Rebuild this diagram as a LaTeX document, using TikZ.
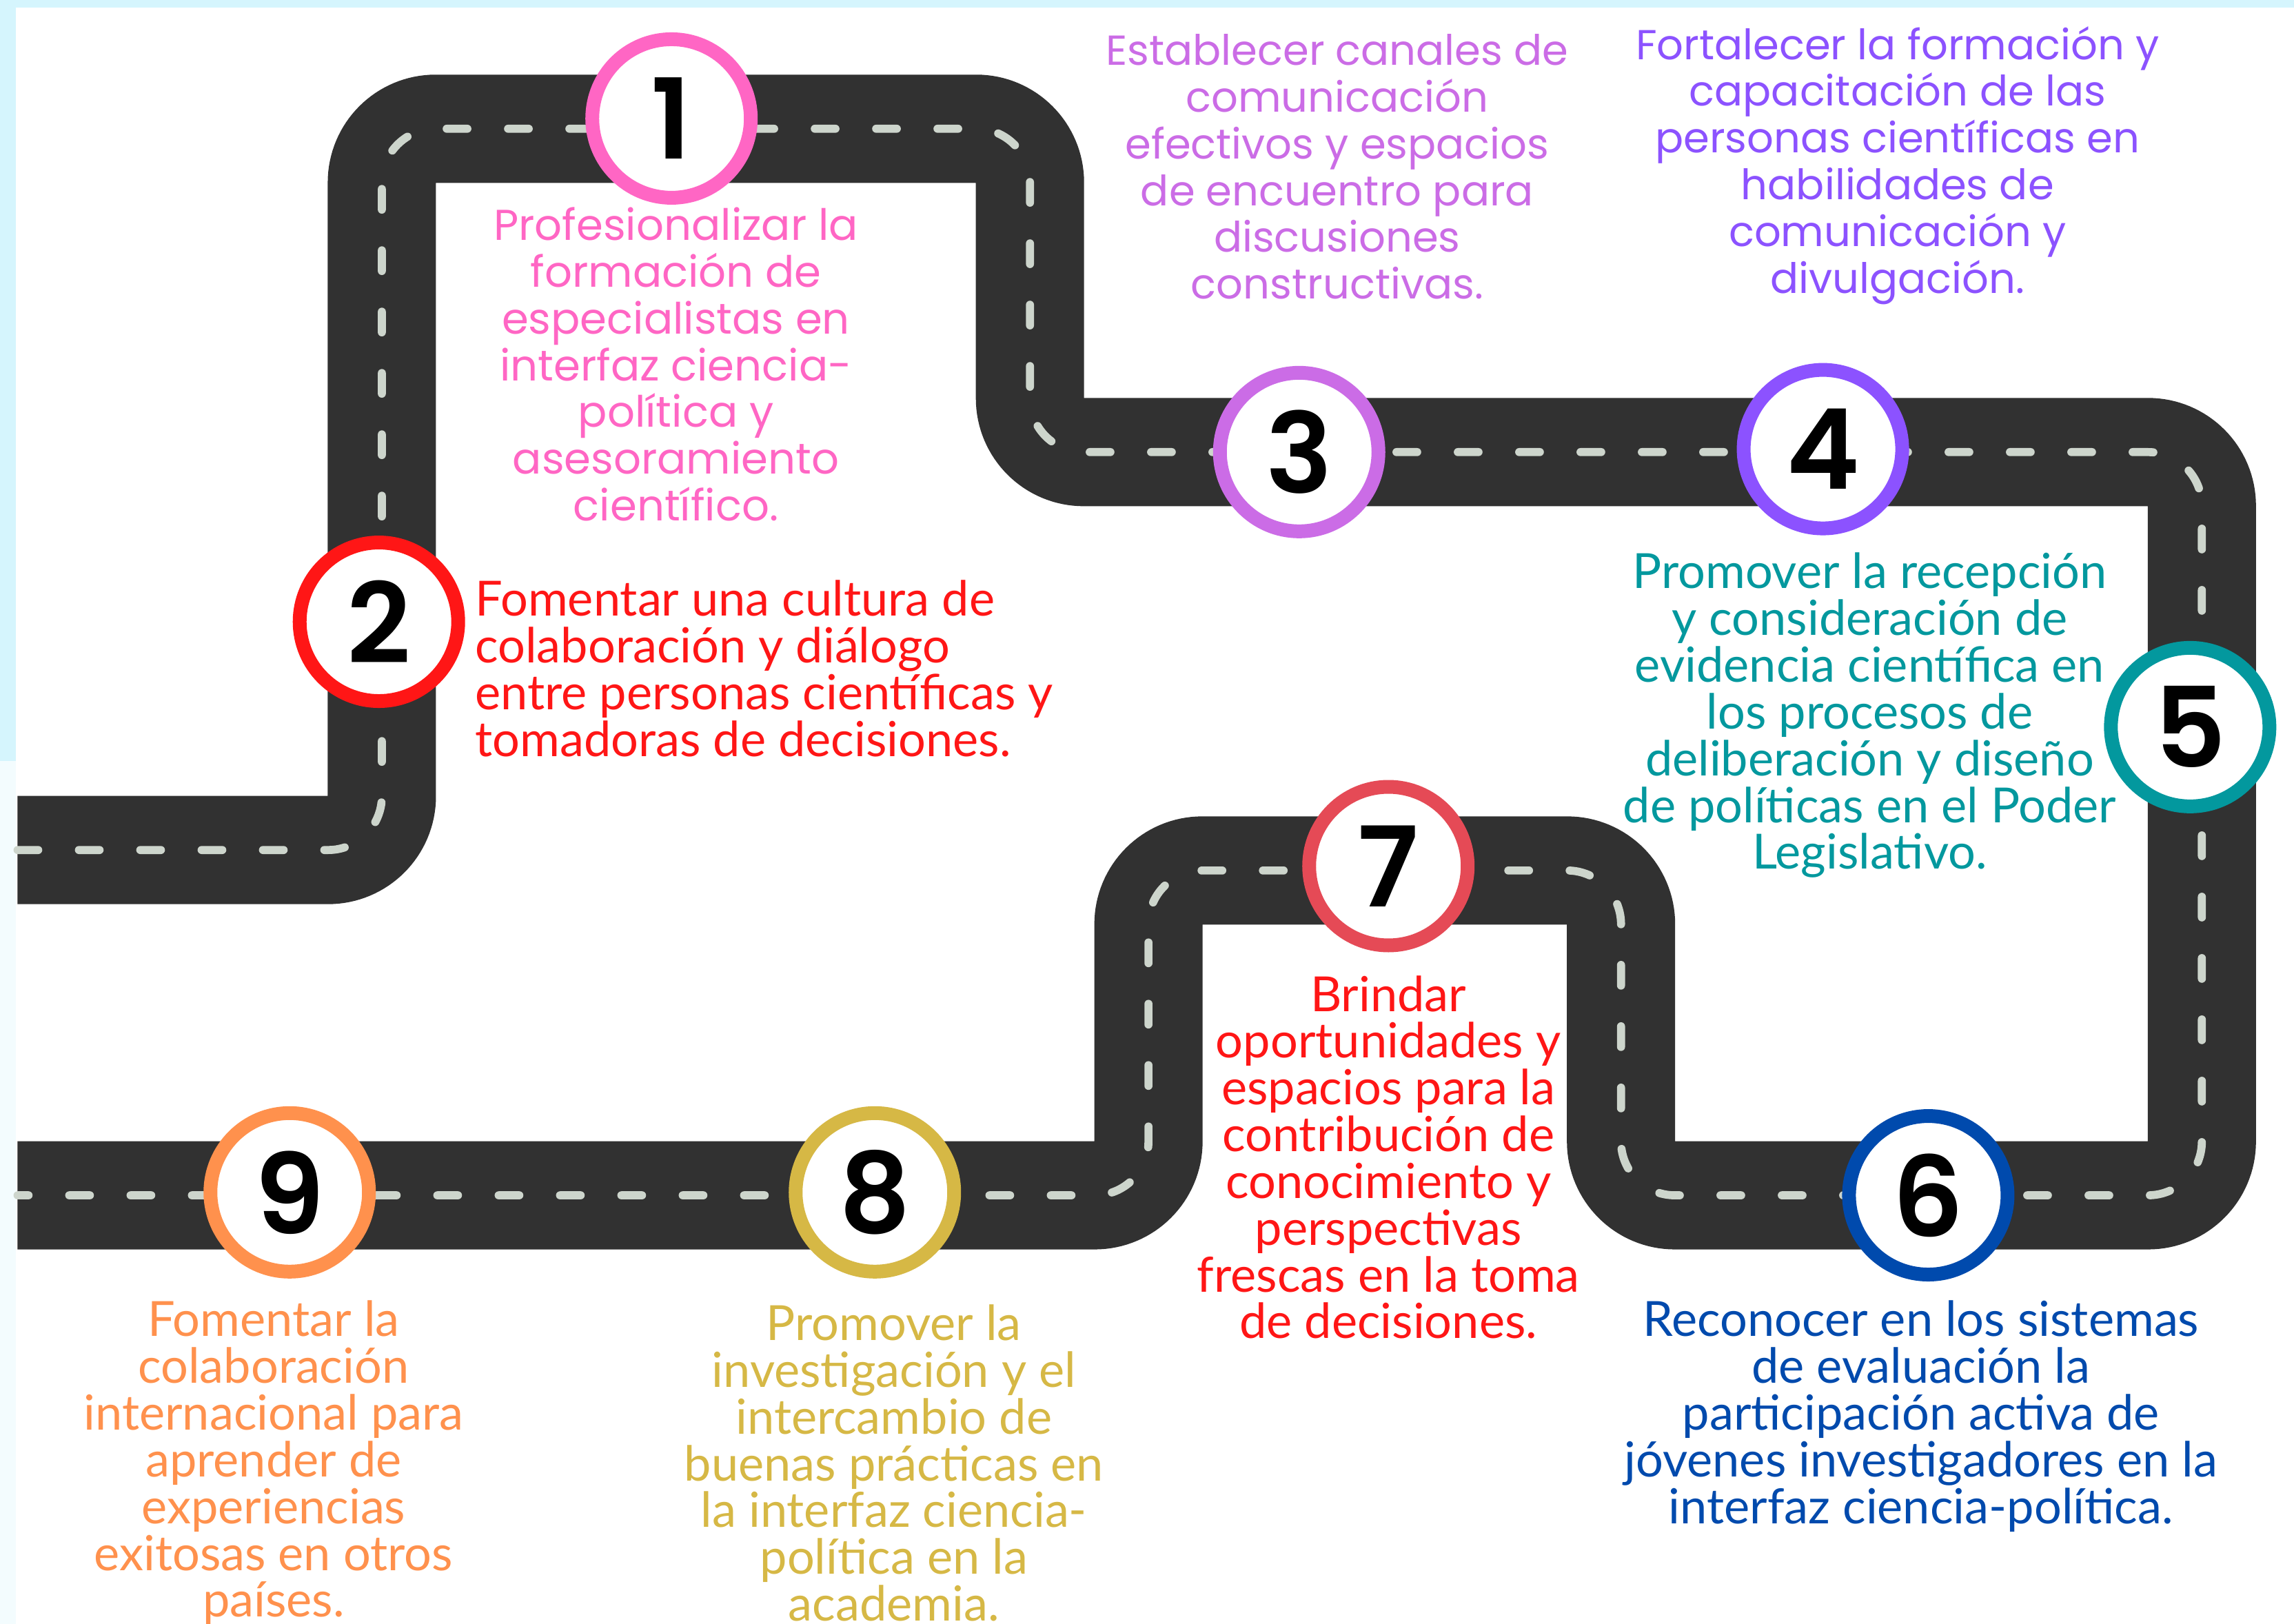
\documentclass[tikz,border=0pt]{standalone}
\usepackage{fontspec}
\setmainfont{Lato}
\newfontfamily\geofont{Poppins}
\newfontfamily\numfont{Poppins}[UprightFont=* SemiBold, BoldFont=* SemiBold]

\definecolor{asphalt}{HTML}{313131}
\definecolor{lanegray}{HTML}{CDD5CC}
\definecolor{skyline}{HTML}{D5F5FD}
\definecolor{pinkc}{HTML}{FF66C4}
\definecolor{redc}{HTML}{FF1616}
\definecolor{violetc}{HTML}{CB6CE6}
\definecolor{purplec}{HTML}{8C52FF}
\definecolor{tealc}{HTML}{03989E}
\definecolor{navyc}{HTML}{004AAD}
\definecolor{rosec}{HTML}{E54A56}
\definecolor{mustardc}{HTML}{D6B845}
\definecolor{orangec}{HTML}{FF914D}

\begin{document}
\begin{tikzpicture}[x=0.021224cm, y=-0.021224cm,
	road/.style={draw=asphalt, line width=1.57cm, rounded corners=0.78cm},
	lane/.style={draw=lanegray, line width=0.117cm, line cap=round, dash pattern=on 0.3cm off 0.59cm, rounded corners=0.78cm},
	stop/.style={circle, draw=#1, line width=0.2cm, fill=white, minimum size=2.30cm, inner sep=0pt, font=\numfont\fontsize{46}{46}\selectfont},
	goal/.style={text=#1, align=center, font=\fontsize{20}{19.3}\selectfont},
	geogoal/.style={text=#1, align=center, font=\geofont\fontsize{17.3}{19.3}\selectfont}]
			\useasboundingbox (0,0) rectangle (1568,1110);
			\fill[white] (0,0) rectangle (1568,1110);
			\fill[skyline] (0,0) rectangle (1568,5);
			\fill[skyline] (0,0) rectangle (11,520);
			\fill[skyline!30] (0,520) rectangle (11,1110);
			
			% the road
			\draw[road] (12,581) -- (261,581) -- (261,88) -- (704,88) -- (704,309) -- (1505,309) -- (1505,817)
				-- (1108,817) -- (1108,595) -- (785,595) -- (785,817) -- (12,817);
			\draw[lane] (12,581) -- (261,581) -- (261,88) -- (704,88) -- (704,309) -- (1505,309) -- (1505,817)
				-- (1108,817) -- (1108,595) -- (785,595) -- (785,817) -- (12,817);
			
			% stops
			\node[stop=pinkc] (m1) at (459,81) {1};
			\node[stop=redc] (m2) at (259,425) {2};
			\node[stop=violetc] (m3) at (888,309) {3};
			\node[stop=purplec] (m4) at (1246,307) {4};
			\node[stop=tealc] (m5) at (1497,497) {5};
			\node[stop=navyc] (m6) at (1318,817) {6};
			\node[stop=rosec] (m7) at (949,592) {7};
			\node[stop=mustardc] (m8) at (598,815) {8};
			\node[stop=orangec] (m9) at (198,815) {9};
			
			% goals
			\node[geogoal=pinkc, font=\geofont\fontsize{17.8}{19.3}\selectfont] (t1) at (462,249) {Profesionalizar la\\formación de\\especialistas en\\interfaz ciencia-\\política y\\asesoramiento\\científico.};
			\node[goal=redc, align=left, anchor=west] (t2) at (319,457) {Fomentar una cultura de\\colaboración y diálogo\\entre personas científicas y\\tomadoras de decisiones.};
			\node[geogoal=violetc] (t3) at (914,114) {Establecer canales de\\comunicación\\efectivos y espacios\\de encuentro para\\discusiones\\constructivas.};
			\node[geogoal=purplec] (t4) at (1297,113) {Fortalecer la formación y\\capacitación de las\\personas científicas en\\habilidades de\\comunicación y\\divulgación.};
			\node[goal=tealc] (t5) at (1278,489) {Promover la recepción\\y consideración de\\evidencia científica en\\los procesos de\\deliberación y diseño\\de políticas en el Poder\\Legislativo.};
			\node[goal=navyc] (t6) at (1313,968) {Reconocer en los sistemas\\de evaluación la\\participación activa de\\jóvenes investigadores en la\\interfaz ciencia-política.};
			\node[goal=redc] (t7) at (949,791) {Brindar\\oportunidades y\\espacios para la\\contribución de\\conocimiento y\\perspectivas\\frescas en la toma\\de decisiones.};
			\node[goal=mustardc] (t8) at (611,1000) {Promover la\\investigación y el\\intercambio de\\buenas prácticas en\\la interfaz ciencia-\\política en la\\academia.};
			\node[goal=orangec] (t9) at (187,1000) {Fomentar la\\colaboración\\internacional para\\aprender de\\experiencias\\exitosas en otros\\países.};
\end{tikzpicture}
\end{document}
